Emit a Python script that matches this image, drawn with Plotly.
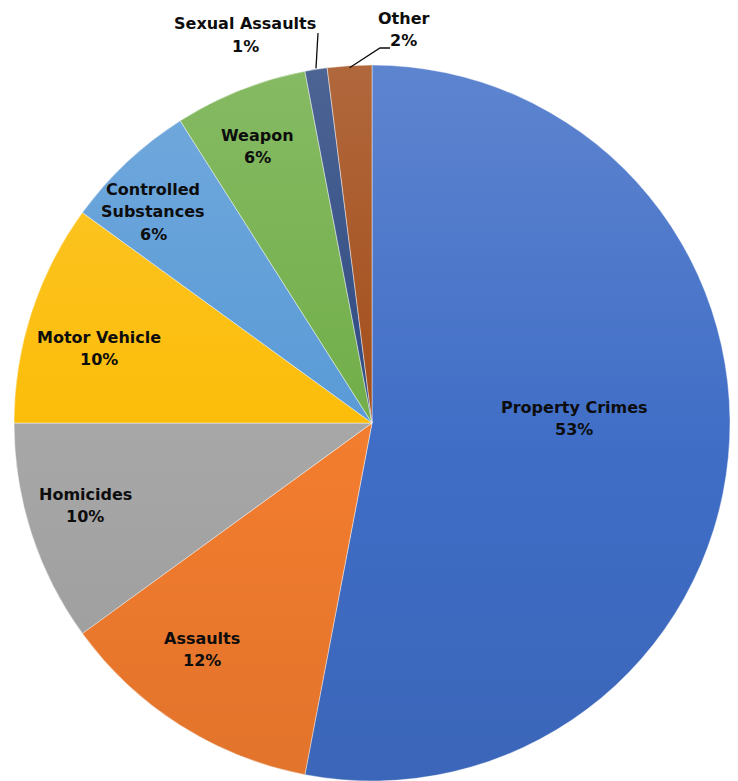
import base64
import math
import plotly.graph_objects as go

# Share of incidents by offense category
categories = ["Property Crimes", "Assaults", "Homicides", "Motor Vehicle",
              "Controlled Substances", "Weapon", "Sexual Assaults", "Other"]
shares = [53, 12, 10, 10, 6, 6, 1, 2]

# Display text for each category (line breaks as drawn)
label_lines = [["Property Crimes"], ["Assaults"], ["Homicides"], ["Motor Vehicle"],
               ["Controlled", "Substances"], ["Weapon"], ["Sexual Assaults"], ["Other"]]

colors = ["#3F6DC6", "#F27C2E", "#A6A6A6", "#FCBC06",
          "#5799D6", "#6FAD46", "#2B4780", "#A24B17"]

# Page geometry (pixels)
W, H = 738, 781
ML, MR, MT, MB = 13, 7, 65, 0
PW, PH = W - ML - MR, H - MT - MB
CX, CY = ML + PW / 2, MT + PH / 2
R = min(PW, PH) / 2


def px(x):
    return (x - ML) / PW


def py(y):
    return 1 - (y - MT) / PH


# Label block anchor (pixel centre of first line) per category
label_pos = [(574, 407), (202, 638), (85, 494), (99, 337),
             (153, 189), (257, 135), (245, 24), (403, 18)]
line_gap = 22.5

fig = go.Figure(go.Pie(
    labels=categories,
    values=shares,
    sort=False,
    direction="clockwise",
    rotation=0,
    marker=dict(colors=colors, line=dict(color="rgba(255,255,255,0.55)", width=0.8)),
    textinfo="none",
    hoverinfo="label+percent",
    showlegend=False,
))

annotations = []
total = sum(shares)
for name, val, lines, (lx, ly) in zip(categories, shares, label_lines, label_pos):
    pct = f"{round(100 * val / total)}%"
    rows = lines + [pct]
    for i, row in enumerate(rows):
        annotations.append(dict(
            x=px(lx), y=py(ly + i * line_gap), xref="paper", yref="paper",
            text=row, showarrow=False, xanchor="center", yanchor="middle",
            font=dict(family="DejaVu Sans", size=16, color="#0D0D0D", weight="bold"),
        ))


def edge_point(idx):
    """Point on the rim at the middle angle of slice idx (clockwise from 12 o'clock)."""
    start = sum(shares[:idx])
    mid = (start + shares[idx] / 2) / total * 2 * math.pi
    return CX + R * math.sin(mid), CY - R * math.cos(mid)


# Leader lines for the two thin slices
shapes = []
sx, sy = edge_point(categories.index("Sexual Assaults"))
shapes.append(dict(type="line", xref="paper", yref="paper",
                   x0=px(318), y0=py(33), x1=px(sx), y1=py(sy - 1),
                   line=dict(color="#0D0D0D", width=1.3)))
ox, oy = edge_point(categories.index("Other"))
shapes.append(dict(type="path", xref="paper", yref="paper",
                   path=f"M {px(390)},{py(48)} L {px(380)},{py(48)} L {px(ox)},{py(oy + 2)}",
                   line=dict(color="#0D0D0D", width=1.3)))

# Soft vertical shading over the disc (lighter top, darker bottom)
svg = ("<svg xmlns='http://www.w3.org/2000/svg' width='200' height='200' viewBox='0 0 200 200' "
       "preserveAspectRatio='none'><defs><linearGradient id='g' x1='0' y1='0' x2='0' y2='1'>"
       "<stop offset='0' stop-color='#ffffff' stop-opacity='0.16'/>"
       "<stop offset='0.55' stop-color='#ffffff' stop-opacity='0'/>"
       "<stop offset='0.55' stop-color='#000000' stop-opacity='0'/>"
       "<stop offset='1' stop-color='#000000' stop-opacity='0.07'/>"
       "</linearGradient></defs><circle cx='100' cy='100' r='100' fill='url(#g)'/></svg>")
src = "data:image/svg+xml;base64," + base64.b64encode(svg.encode()).decode()

fig.update_layout(
    width=W, height=H,
    margin=dict(l=ML, r=MR, t=MT, b=MB),
    paper_bgcolor="white", plot_bgcolor="white",
    annotations=annotations,
    shapes=shapes,
    images=[dict(source=src, xref="paper", yref="paper",
                 x=px(CX - R), y=py(CY - R), sizex=2 * R / PW, sizey=2 * R / PH,
                 xanchor="left", yanchor="top", sizing="stretch", layer="above")],
)

fig.write_html("out.html")
